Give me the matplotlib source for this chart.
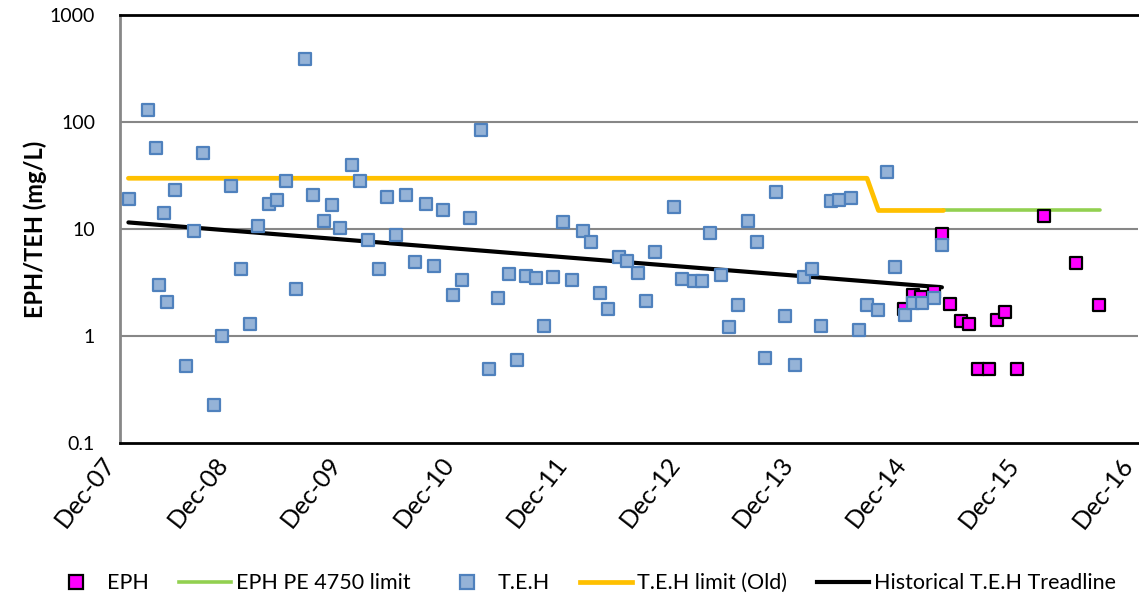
import matplotlib
matplotlib.use("Agg")
import matplotlib.pyplot as plt
import matplotlib.dates as mdates
import matplotlib.transforms as mtransforms
from matplotlib.lines import Line2D
import pandas as pd

plt.rcParams["font.family"] = ["Lato", "DejaVu Sans"]

# T.E.H sampling results (mg/L)
teh_dates = [
    "2007-12-30", "2008-02-29", "2008-03-27", "2008-04-05", "2008-04-21", "2008-04-30",
    "2008-05-28", "2008-06-30", "2008-07-28", "2008-08-25", "2008-09-28", "2008-10-25",
    "2008-11-22", "2008-12-27", "2009-01-23", "2009-02-18", "2009-03-25", "2009-04-21",
    "2009-05-19", "2009-06-23", "2009-07-19", "2009-08-16", "2009-09-20", "2009-10-17",
    "2009-11-12", "2009-12-18", "2010-01-14", "2010-02-10", "2010-03-16", "2010-04-12",
    "2010-05-09", "2010-06-13", "2010-07-10", "2010-08-14", "2010-09-11", "2010-10-08",
    "2010-11-11", "2010-12-09", "2011-01-05", "2011-02-08", "2011-03-08", "2011-04-04",
    "2011-05-09", "2011-06-06", "2011-07-03", "2011-08-06", "2011-09-02", "2011-09-30",
    "2011-11-02", "2011-12-01", "2012-01-05", "2012-02-01", "2012-02-29", "2012-03-26",
    "2012-04-29", "2012-05-27", "2012-07-01", "2012-07-27", "2012-08-24", "2012-10-25",
    "2012-11-19", "2012-12-27", "2013-01-23", "2013-02-19", "2013-03-25", "2013-04-21",
    "2013-05-19", "2013-06-21", "2013-07-19", "2013-08-15", "2013-09-20", "2013-10-17",
    "2013-11-20", "2013-12-17", "2014-01-14", "2014-02-10", "2014-03-17", "2014-04-12",
    "2014-05-18", "2014-06-14", "2014-07-11", "2014-08-14", "2014-09-11", "2014-10-09",
    "2014-11-11", "2014-12-04", "2015-01-05", "2015-02-10", "2015-03-09",
]
teh_values = [
    19.2, 131, 57.5, 3.03, 14.1, 2.1,
    23.3, 0.53, 9.6, 51.6, 0.23, 1.0,
    25.6, 4.26, 1.29, 10.7, 17.2, 18.8,
    28.1, 2.75, 391, 21.1, 12.0, 16.7,
    10.2, 39.9, 28.1, 8.0, 4.3, 20.2,
    8.85, 21.1, 4.98, 17.1, 4.5, 15.1,
    2.43, 3.38, 12.8, 84.7, 0.50, 2.28,
    3.82, 0.605, 3.64, 3.48, 1.24, 3.6,
    11.7, 3.38, 9.7, 7.6, 2.52, 1.81,
    5.47, 5.09, 3.92, 2.14, 6.13, 16.3,
    3.4, 3.29, 3.3, 9.2, 3.72, 1.23,
    1.95, 11.9, 7.66, 0.63, 22.3, 1.54,
    0.54, 3.6, 4.23, 1.25, 18.4, 18.8,
    19.5, 1.15, 1.95, 1.76, 34.3, 4.42,
    1.57, 2.06, 2.06, 2.3, 7.08,
]

# EPH sampling results (mg/L)
eph_dates = [
    "2014-11-07", "2014-12-07", "2015-01-01", "2015-02-10", "2015-03-09", "2015-04-05",
    "2015-05-09", "2015-06-06", "2015-07-05", "2015-08-08", "2015-09-03", "2015-09-30",
    "2015-11-05", "2016-02-01", "2016-05-14", "2016-07-28",
]
eph_values = [
    1.8, 2.44, 2.35, 2.6, 8.98, 1.99,
    1.4, 1.31, 0.50, 0.50, 1.41, 1.69,
    0.50, 13.4, 4.84, 1.95,
]

# Regulatory limits
teh_limit_dates = ["2007-12-28", "2014-07-10", "2014-08-16", "2015-03-14"]
teh_limit_values = [30, 30, 15, 15]
eph_limit_dates = ["2015-03-14", "2016-08-01"]
eph_limit_values = [15, 15]

# Historical T.E.H trend (exponential fit end points)
trend_dates = ["2007-12-28", "2015-03-09"]
trend_values = [11.6, 2.87]

tick_dates = ["2007-12-01", "2008-12-01", "2009-12-01", "2010-12-01", "2011-12-01",
              "2012-12-01", "2013-12-01", "2014-12-01", "2015-12-01", "2016-12-01"]
y_ticks = [0.1, 1, 10, 100, 1000]
y_tick_labels = ["0.1", "1", "10", "100", "1000"]

to_dt = pd.to_datetime

fig = plt.figure(figsize=(11.39, 6.03), dpi=100)
ax = fig.add_axes([0.1054, 0.2648, 0.8936, 0.7098])

grid_col = "#878787"
for v in y_ticks[1:-1]:
    ax.axhline(v, color=grid_col, lw=1.5, zorder=1)

ax.plot(to_dt(eph_limit_dates), eph_limit_values, color="#92D050", lw=2.6,
        solid_capstyle="round", zorder=2, label="EPH PE 4750 limit")
ax.plot(to_dt(teh_limit_dates), teh_limit_values, color="#FFC000", lw=3.4,
        solid_capstyle="round", solid_joinstyle="round", zorder=2, label="T.E.H limit (Old)")
ax.plot(to_dt(trend_dates), trend_values, color="black", lw=3,
        solid_capstyle="round", zorder=3, label="Historical T.E.H Treadline")

ax.scatter(to_dt(eph_dates), eph_values, marker="s", s=78, facecolor="#FF00FF",
           edgecolor="black", linewidths=1.6, zorder=4, label="EPH")
ax.scatter(to_dt(teh_dates), teh_values, marker="s", s=78, facecolor="#95B3D7",
           edgecolor="#4F81BD", linewidths=1.6, zorder=5, label="T.E.H")

ax.set_yscale("log")
ax.set_ylim(0.1, 1000)
ax.set_yticks(y_ticks)
ax.set_yticklabels(y_tick_labels)
ax.yaxis.set_minor_locator(matplotlib.ticker.NullLocator())
ax.set_xlim(to_dt(tick_dates[0]), to_dt(tick_dates[-1]))
ax.set_xticks(to_dt(tick_dates))
ax.xaxis.set_major_formatter(mdates.DateFormatter("%b-%y"))
ax.tick_params(axis="both", length=0, labelsize=14, colors="black")
ax.tick_params(axis="y", pad=18)
ax.tick_params(axis="x", pad=12, labelsize=18)
shift = mtransforms.ScaledTranslation(-7 / 72, 0, fig.dpi_scale_trans)
for lab in ax.get_xticklabels():
    lab.set_rotation(52)
    lab.set_ha("right")
    lab.set_va("center")
    lab.set_rotation_mode("anchor")
    lab.set_transform(lab.get_transform() + shift)

ax.spines["right"].set_visible(False)
ax.spines["left"].set_color(grid_col)
ax.spines["left"].set_linewidth(2)
ax.spines["top"].set_color("black")
ax.spines["top"].set_linewidth(2)
ax.spines["bottom"].set_color("black")
ax.spines["bottom"].set_linewidth(2)

ax.set_ylabel("EPH/TEH (mg/L)", fontsize=17, fontweight="bold", labelpad=2)

handles = [
    Line2D([], [], ls="none", marker="s", markersize=10, markerfacecolor="#FF00FF",
           markeredgecolor="black", markeredgewidth=1.6),
    Line2D([], [], color="#92D050", lw=2.6),
    Line2D([], [], ls="none", marker="s", markersize=10, markerfacecolor="#95B3D7",
           markeredgecolor="#4F81BD", markeredgewidth=1.6),
    Line2D([], [], color="#FFC000", lw=3.4),
    Line2D([], [], color="black", lw=3),
]
labels = ["EPH", "EPH PE 4750 limit", "T.E.H", "T.E.H limit (Old)", "Historical T.E.H Treadline"]
fig.legend(handles, labels, loc="center", bbox_to_anchor=(0.512, 0.033), ncol=5,
           frameon=False, fontsize=15.5, handlelength=2.4, handletextpad=0.25,
           columnspacing=1.4)

fig.savefig("out.png", dpi=100)
